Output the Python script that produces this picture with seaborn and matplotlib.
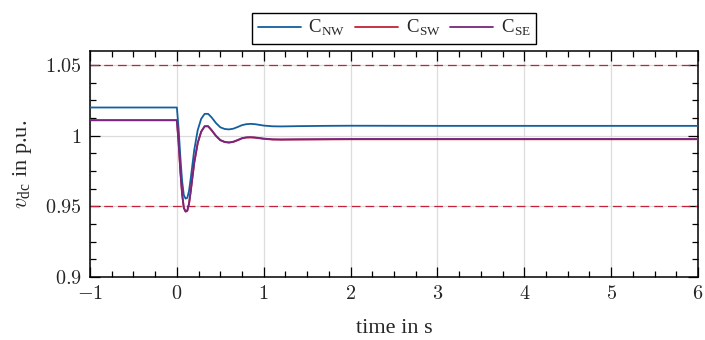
import matplotlib
matplotlib.use("Agg")
import matplotlib.pyplot as plt
from matplotlib.ticker import MultipleLocator, FixedLocator
import seaborn as sns
import pandas as pd

# Time axis (s) and DC voltage responses (p.u.) of the three converters
time = [-1.0, 0.0, 0.02, 0.04, 0.06, 0.08, 0.10, 0.12, 0.14, 0.16, 0.18, 0.20,
        0.24, 0.28, 0.32, 0.36, 0.40, 0.45, 0.50, 0.55, 0.60, 0.65, 0.70,
        0.75, 0.80, 0.85, 0.90, 0.95, 1.0, 1.1, 1.2, 1.4, 1.7, 2.0, 3.0,
        4.0, 5.0, 6.0]

v_nw = [1.020, 1.020, 1.005, 0.985, 0.968, 0.958, 0.9555, 0.956, 0.961, 0.970,
        0.980, 0.990, 1.004, 1.012, 1.0155, 1.0155, 1.013, 1.009, 1.006,
        1.0048, 1.0045, 1.005, 1.0062, 1.0075, 1.0082, 1.0084, 1.0082,
        1.0077, 1.0072, 1.0067, 1.0066, 1.0068, 1.0070, 1.0071, 1.0070,
        1.0070, 1.0070, 1.0070]

v_sw = [1.011, 1.011, 0.9948, 0.9748, 0.9588, 0.9488, 0.9462, 0.9468, 0.9518,
        0.9608, 0.9708, 0.9808, 0.9948, 1.0028, 1.0066, 1.0066, 1.0038,
        0.9998, 0.9968, 0.9955, 0.9951, 0.9956, 0.9968, 0.9981, 0.9987,
        0.9988, 0.9986, 0.9982, 0.9978, 0.9973, 0.9972, 0.9973, 0.9974,
        0.9975, 0.9975, 0.9975, 0.9975, 0.9975]

v_se = [1.011, 1.011, 0.995, 0.975, 0.959, 0.949, 0.9465, 0.947, 0.952, 0.961,
        0.971, 0.981, 0.995, 1.003, 1.0068, 1.0068, 1.004, 1.000, 0.997,
        0.9957, 0.9953, 0.9958, 0.997, 0.9983, 0.9989, 0.999, 0.9988,
        0.9984, 0.998, 0.9975, 0.9974, 0.9975, 0.9976, 0.9977, 0.9977,
        0.9977, 0.9977, 0.9977]

series_names = ["C$_{\\mathregular{NW}}$", "C$_{\\mathregular{SW}}$", "C$_{\\mathregular{SE}}$"]
series_values = [v_nw, v_sw, v_se]
limits = [1.05, 0.95]

x_ticks = [-1, 0, 1, 2, 3, 4, 5, 6]
y_ticks = [0.9, 0.95, 1.0, 1.05]
y_tick_labels = ["0.9", "0.95", "1", "1.05"]

rows = []
for name, vals in zip(series_names, series_values):
    for t, v in zip(time, vals):
        rows.append({"time": t, "v": v, "series": name})
df = pd.DataFrame(rows)

sns.set_theme(style="ticks")
plt.rcParams["font.family"] = ["Liberation Serif", "DejaVu Serif"]
plt.rcParams["mathtext.fontset"] = "cm"

colors = ["#135f9e", "#c4223a", "#76267f"]

fig = plt.figure(figsize=(7.05, 3.4), dpi=100)
ax = fig.add_axes([0.1277, 0.1853, 0.8623, 0.6647])

# grid lines
for xv in x_ticks:
    ax.axvline(xv, color="#dcdcdc", lw=0.9, zorder=0)
for yv in y_ticks:
    ax.axhline(yv, color="#dcdcdc", lw=0.9, zorder=0)

# voltage limits
for lim in limits:
    ax.axhline(lim, color="#c4223a", lw=0.9, dashes=(7, 4), zorder=1)

sns.lineplot(data=df, x="time", y="v", hue="series", palette=colors,
             hue_order=series_names, lw=1.3, ax=ax, legend=True, zorder=3,
             estimator=None, sort=False)

ax.set_xlim(-1, 6)
ax.set_ylim(0.9, 1.06)
ax.xaxis.set_major_locator(FixedLocator(x_ticks))
ax.yaxis.set_major_locator(FixedLocator(y_ticks))
ax.xaxis.set_minor_locator(MultipleLocator(0.25))
ax.yaxis.set_minor_locator(MultipleLocator(0.0125))
ax.set_xticklabels([f"${v}$" if v >= 0 else f"$-{abs(v)}$" for v in x_ticks],
                   fontsize=14.5)
ax.set_yticklabels([f"${s}$" for s in y_tick_labels], fontsize=14.5)

ax.tick_params(which="both", direction="in", top=True, right=True,
               color="black", width=0.9)
ax.tick_params(which="major", length=7, pad=6)
ax.tick_params(which="minor", length=4)
for sp in ax.spines.values():
    sp.set_color("black")
    sp.set_linewidth(1.1)

ax.set_xlabel("time in s", fontsize=16)
ax.set_ylabel("$v_{\\mathregular{dc}}$ in p.u.", fontsize=16)
ax.xaxis.set_label_coords(0.5, -0.185)
ax.yaxis.set_label_coords(-0.092, 0.5)

handles, labels = ax.get_legend_handles_labels()
ax.legend(handles, labels, loc="center", bbox_to_anchor=(0.559, 0.917),
          bbox_transform=fig.transFigure, ncol=3, frameon=True, fancybox=False,
          edgecolor="black", framealpha=1, fontsize=13.5, handlelength=2.3,
          columnspacing=0.5, handletextpad=0.4, borderpad=0.3)
ax.get_legend().get_frame().set_linewidth(1.0)

fig.savefig("out.png", dpi=100)
